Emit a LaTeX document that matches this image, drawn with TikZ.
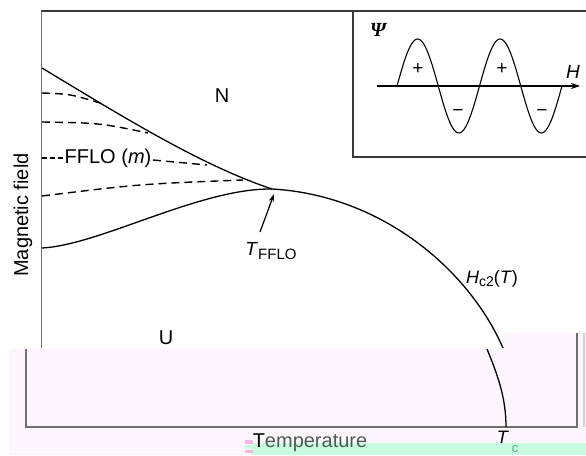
\documentclass[tikz,border=0pt]{standalone}
\usepackage{fontspec}
\setmainfont{Liberation Sans}
\newfontfamily\psifont{Liberation Serif}
\usetikzlibrary{arrows.meta}
\definecolor{pinkbg}{HTML}{FDF5FC}
\definecolor{mintbg}{HTML}{C8FBE2}
\definecolor{axisgray}{HTML}{707070}
\definecolor{framegray}{HTML}{3A3A3A}
\definecolor{tempgreen}{HTML}{4E5E55}
\definecolor{subgreen}{HTML}{4FB07E}
\definecolor{glitchpink}{HTML}{F6B6DF}
\tikzset{
  curve/.style={line width=1.3pt, black},
  dashcurve/.style={line width=1.4pt, black, dash pattern=on 8pt off 5pt},
  axisline/.style={line width=1.2pt, axisgray},
  frameline/.style={line width=1.1pt, framegray},
  lbl/.style={inner sep=0pt, font=\fontsize{19}{21}\selectfont},
}
\begin{document}
\begin{tikzpicture}[x=1pt,y=-1pt]
\useasboundingbox (0,0) rectangle (586,455);
% glitch backgrounds
\fill[pinkbg] (9,349) rectangle (586,455);
\fill[pinkbg] (503,333) rectangle (586,349);
\fill[mintbg] (252,443) rectangle (586,455);
\fill[glitchpink] (245,440) rectangle (253,444);
\fill[mintbg] (245,445) rectangle (253,449);
\fill[glitchpink] (245,450) rectangle (253,453);
% main frame (upper)
\draw[frameline] (41,11) -- (586,11);
\draw[axisline] (41.5,11) -- (41.5,348);
% inset
\draw[frameline] (353,11) -- (353,157) -- (586,157);
\coordinate (hstart) at (377,86);
\coordinate (hend) at (580,86);
\draw[line width=1.2pt, -{Stealth[length=9pt,width=6pt]}] (hstart) -- (hend);
\draw[line width=1.1pt] plot[domain=0:2, samples=120, smooth] ({397+82.5*\x}, {86-47*sin(360*\x)});
\node[lbl, font=\fontsize{20}{22}\selectfont] (psi) at (378,30) {\psifont\bfseries\itshape Ψ};
\node[lbl] (hlab) at (573,72) {\itshape H};
\node[lbl] (p1) at (418,69) {+};
\node[lbl] (p2) at (502,69) {+};
\node[lbl] (m1) at (458,113) {−};
\node[lbl] (m2) at (542,113) {−};
% lower (shifted) frame
\draw[axisline] (26,349) -- (26,427) -- (577,427) -- (577,333);
\draw[line width=1.5pt, black!18] (584,333) -- (584,427);
% phase boundaries
\coordinate (tffloPt) at (272,189);
\draw[curve] (42,68) .. controls (120,115) and (200,165) .. (tffloPt);
\draw[curve] (42,248) .. controls (100,245) and (200,188) .. (tffloPt)
  .. controls (380,195) and (468,268) .. (503,348);
\draw[curve] (487,349) .. controls (499,378) and (506,400) .. (506,427);
% FFLO dashed lines
\draw[dashcurve] (42,93) .. controls (70,94) .. (100,103);
\draw[dashcurve] (42,122) .. controls (100,123) .. (148,133);
\draw[dashcurve, dash pattern=on 5pt off 3pt] (42,158) -- (65,158);
\draw[dashcurve] (153,160) .. controls (180,162) .. (207,165);
\draw[dashcurve] (42,196) .. controls (140,184) .. (243,180);
\node[lbl, font=\fontsize{20}{22}\selectfont] (fflo) at (108,158) {FFLO (\textit{m})};
% labels
\node[lbl, font=\fontsize{20}{22}\selectfont] (N) at (222,96) {N};
\node[lbl, font=\fontsize{20}{22}\selectfont] (U) at (166,338) {U};
\node[lbl, font=\fontsize{18}{20}\selectfont] (hc2) at (492,279) {\textit{H}\raisebox{-0.35ex}{\fontsize{14}{14}\selectfont c2}(\textit{T})};
\node[lbl, font=\fontsize{19}{21}\selectfont] (tfflo) at (271,251) {\textit{T}\raisebox{-0.45ex}{\fontsize{15}{15}\selectfont FFLO}};
\coordinate (arrowHead) at (274,194);
\coordinate (arrowTail) at (260,232);
\draw[line width=1.2pt, -{Stealth[length=8pt,width=5pt]}] (arrowTail) -- (arrowHead);
\node[lbl, rotate=90, font=\fontsize{20}{22}\selectfont] (mag) at (23,215) {Magnetic field};
\node[lbl, font=\fontsize{20}{22}\selectfont] (temp) at (310,443) {\textcolor{black}{T}\textcolor{tempgreen}{emperature}};
\node[lbl, font=\fontsize{18}{20}\selectfont] (tc) at (503,437) {\textit{T}};
\node[lbl, font=\fontsize{13}{13}\selectfont, text=subgreen] (tcsub) at (515,449) {c};
\end{tikzpicture}
\end{document}
